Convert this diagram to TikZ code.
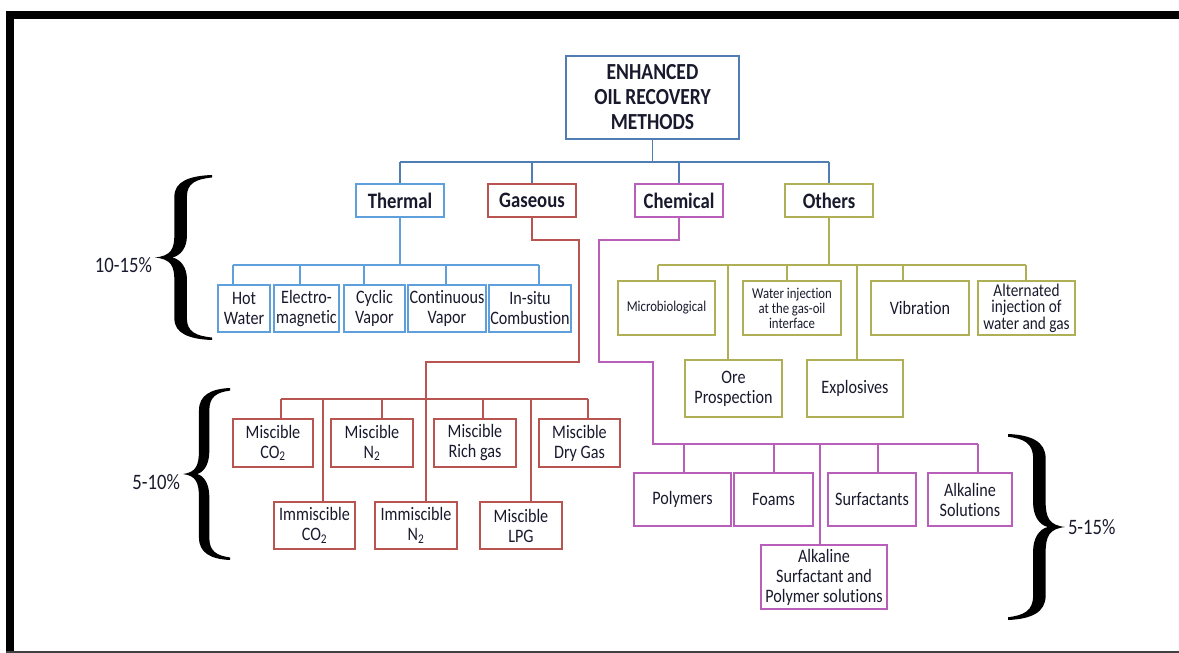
\documentclass[tikz,border=0pt]{standalone}
\usepackage{fontspec}
\setmainfont{Carlito}[FakeStretch=0.85, Ligatures=CommonOff]
\definecolor{eorblue}{RGB}{79,125,180}
\definecolor{thermblue}{RGB}{95,160,220}
\definecolor{gasred}{RGB}{185,85,80}
\definecolor{chempurple}{RGB}{185,95,185}
\definecolor{otherolive}{RGB}{175,175,85}
\definecolor{inktext}{RGB}{25,25,45}
\tikzset{%
    every node/.style={draw, line width=2pt, inner sep=0pt, align=center,
    	text=inktext, font=\fontsize{19}{20}\selectfont},
    rootbox/.style={draw=eorblue, font=\bfseries\fontsize{23}{25}\selectfont},
    catbox/.style={minimum width=88pt, minimum height=33pt,
    	font=\bfseries\fontsize{22}{24}\selectfont},
    tbox/.style={draw=thermblue, minimum height=47pt},
    obox/.style={draw=otherolive},
    gbox/.style={draw=gasred},
    cbox/.style={draw=chempurple},
    pct/.style={draw=none, font=\fontsize{22}{24}\selectfont},
    link/.style={line width=1.8pt},
    lbrace/.pic={
    	\fill (0,0.5) .. controls (0.28,0.51) and (0.34,0.55) .. (0.34,0.64)
    		-- (0.34,0.87) .. controls (0.34,0.96) and (0.6,0.995) .. (1,1)
    		-- (1,0.985) .. controls (0.72,0.975) and (0.56,0.95) .. (0.56,0.87)
    		-- (0.56,0.63) .. controls (0.56,0.56) and (0.45,0.51) .. (0.3,0.5)
    		.. controls (0.45,0.49) and (0.56,0.44) .. (0.56,0.37)
    		-- (0.56,0.13) .. controls (0.56,0.05) and (0.72,0.025) .. (1,0.015)
    		-- (1,0) .. controls (0.6,0.005) and (0.34,0.04) .. (0.34,0.13)
    		-- (0.34,0.36) .. controls (0.34,0.45) and (0.28,0.49) .. (0,0.5) -- cycle;
    }
}

\begin{document}
\begin{tikzpicture}[x=1pt, y=-1pt]
	\useasboundingbox (0,0) rectangle (1179,653);
	\fill (6,11) rectangle (1179,19);
	\fill (6,11) rectangle (14,653);
	\draw [line width=1.5pt, black!75] (6,652) -- (1179,652);

	\node [rootbox, minimum width=173pt, minimum height=83pt] (eor) at (652.5,97.5)
		{ENHANCED\\OIL RECOVERY\\METHODS};
	\node [catbox, draw=thermblue] (th) at (400,200.5) {Thermal};
	\node [catbox, draw=gasred] (ga) at (532,200.5) {Gaseous};
	\node [catbox, draw=chempurple] (ch) at (679,200.5) {Chemical};
	\node [catbox, draw=otherolive] (ot) at (829,200.5) {Others};

	\node [tbox, minimum width=52pt] (hot) at (244,308.5) {Hot\\Water};
	\node [tbox, minimum width=65pt] (elec) at (306.5,308.5) {Electro-\\magnetic};
	\node [tbox, minimum width=61pt] (cyc) at (374.5,308.5) {Cyclic\\Vapor};
	\node [tbox, minimum width=78pt] (cont) at (447,308.5) {Continuous\\Vapor};
	\node [tbox, minimum width=82pt] (ins) at (530,308.5) {In-situ\\Combustion};

	\node [obox, minimum width=97pt, minimum height=54pt, font=\fontsize{15}{15}\selectfont]
		(micro) at (666.5,308) {Microbiological};
	\node [obox, minimum width=98pt, minimum height=54pt, font=\fontsize{15}{15}\selectfont]
		(water) at (792,308) {Water injection\\at the gas-oil\\interface};
	\node [obox, minimum width=98pt, minimum height=54pt] (vib) at (920,308) {Vibration};
	\node [obox, minimum width=97pt, minimum height=54pt, font=\fontsize{18}{16.5}\selectfont]
		(alt) at (1026.5,308) {Alternated\\injection of\\water and gas};
	\node [obox, minimum width=97pt, minimum height=57pt] (ore) at (733.5,388.5) {Ore\\Prospection};
	\node [obox, minimum width=96pt, minimum height=57pt] (expl) at (855,388.5) {Explosives};

	\node [gbox, minimum width=80pt, minimum height=48pt] (mco2) at (273,443) {Miscible\\CO\textsubscript{2}};
	\node [gbox, minimum width=82pt, minimum height=48pt] (mn2) at (372,443) {Miscible\\N\textsubscript{2}};
	\node [gbox, minimum width=82pt, minimum height=48pt] (mrich) at (475,443) {Miscible\\Rich gas};
	\node [gbox, minimum width=81pt, minimum height=48pt] (mdry) at (579.5,443) {Miscible\\Dry Gas};
	\node [gbox, minimum width=81pt, minimum height=47pt] (ico2) at (314.5,525.5) {Immiscible\\CO\textsubscript{2}};
	\node [gbox, minimum width=82pt, minimum height=47pt] (in2) at (416,525.5) {Immiscible\\N\textsubscript{2}};
	\node [gbox, minimum width=82pt, minimum height=47pt] (mlpg) at (521,525.5) {Miscible\\LPG};

	\node [cbox, minimum width=97pt, minimum height=53pt] (poly) at (682.5,499.5) {Polymers};
	\node [cbox, minimum width=79pt, minimum height=53pt] (foam) at (773.5,499.5) {Foams};
	\node [cbox, minimum width=88pt, minimum height=53pt] (surf) at (872,499.5) {Surfactants};
	\node [cbox, minimum width=84pt, minimum height=53pt] (alks) at (970,499.5) {Alkaline\\Solutions};
	\node [cbox, minimum width=126pt, minimum height=64pt] (asp) at (824,577)
		{Alkaline\\Surfactant and\\Polymer solutions};

	\coordinate (rb) at (653,162);
	\draw [link, eorblue] (eor.south) -- (eor.south |- rb);
	\draw [link, eorblue] (th.north |- rb) -- (ot.north |- rb);
	\draw [link, eorblue] (th.north |- rb) -- (th.north);
	\draw [link, eorblue] (ga.north |- rb) -- (ga.north);
	\draw [link, eorblue] (ch.north |- rb) -- (ch.north);
	\draw [link, eorblue] (ot.north |- rb) -- (ot.north);

	\coordinate (tb1) at (233,265);
	\coordinate (tb2) at (300,265);
	\coordinate (tb3) at (364,265);
	\coordinate (tb4) at (446,265);
	\coordinate (tb5) at (539,265);
	\draw [link, thermblue] (th.south) -- (th.south |- tb1);
	\draw [link, thermblue] (tb1) -- (tb5);
	\draw [link, thermblue] (tb1) -- (tb1 |- hot.north);
	\draw [link, thermblue] (tb2) -- (tb2 |- elec.north);
	\draw [link, thermblue] (tb3) -- (tb3 |- cyc.north);
	\draw [link, thermblue] (tb4) -- (tb4 |- cont.north);
	\draw [link, thermblue] (tb5) -- (tb5 |- ins.north);

	\coordinate (ob1) at (658,265);
	\coordinate (ob2) at (728,265);
	\coordinate (ob3) at (787,265);
	\coordinate (ob4) at (857,265);
	\coordinate (ob5) at (903,265);
	\coordinate (ob6) at (1026,265);
	\draw [link, otherolive] (ot.south) -- (ot.south |- ob1);
	\draw [link, otherolive] (ob1) -- (ob6);
	\draw [link, otherolive] (ob1) -- (ob1 |- micro.north);
	\draw [link, otherolive] (ob2) -- (ob2 |- ore.north);
	\draw [link, otherolive] (ob3) -- (ob3 |- water.north);
	\draw [link, otherolive] (ob4) -- (ob4 |- expl.north);
	\draw [link, otherolive] (ob5) -- (ob5 |- vib.north);
	\draw [link, otherolive] (ob6) -- (ob6 |- alt.north);

	\coordinate (g1) at (579,240);
	\coordinate (g2) at (579,362);
	\coordinate (g3) at (426,362);
	\coordinate (gb1) at (281,399);
	\coordinate (gb2) at (323,399);
	\coordinate (gb3) at (382,399);
	\coordinate (gb4) at (483,399);
	\coordinate (gb5) at (531,399);
	\coordinate (gb6) at (588,399);
	\draw [link, gasred] (ga.south) |- (g1) -- (g2) -- (g3) -- (g3 |- in2.north);
	\draw [link, gasred] (gb1) -- (gb6);
	\draw [link, gasred] (gb1) -- (gb1 |- mco2.north);
	\draw [link, gasred] (gb2) -- (gb2 |- ico2.north);
	\draw [link, gasred] (gb3) -- (gb3 |- mn2.north);
	\draw [link, gasred] (gb4) -- (gb4 |- mrich.north);
	\draw [link, gasred] (gb5) -- (gb5 |- mlpg.north);
	\draw [link, gasred] (gb6) -- (gb6 |- mdry.north);

	\coordinate (c1) at (599,240);
	\coordinate (c2) at (599,362);
	\coordinate (c3) at (653,362);
	\coordinate (cb1) at (653,444);
	\coordinate (cb2) at (684,444);
	\coordinate (cb3) at (774,444);
	\coordinate (cb4) at (820,444);
	\coordinate (cb5) at (878,444);
	\coordinate (cb6) at (978,444);
	\draw [link, chempurple] (ch.south) |- (c1) -- (c2) -- (c3) -- (cb1) -- (cb6);
	\draw [link, chempurple] (cb2) -- (cb2 |- poly.north);
	\draw [link, chempurple] (cb3) -- (cb3 |- foam.north);
	\draw [link, chempurple] (cb4) -- (cb4 |- asp.north);
	\draw [link, chempurple] (cb5) -- (cb5 |- surf.north);
	\draw [link, chempurple] (cb6) -- (cb6 |- alks.north);

	\pic [xscale=57, yscale=165] at (155,175) {lbrace};
	\pic [xscale=47, yscale=172] at (183,388) {lbrace};
	\pic [xscale=-57, yscale=186] at (1065,434) {lbrace};
	\node [pct, anchor=east] (p1) at (153,265) {10-15\%};
	\node [pct, anchor=east] (p2) at (181,482) {5-10\%};
	\node [pct, anchor=west] (p3) at (1067,527) {5-15\%};
\end{tikzpicture}
\end{document}
